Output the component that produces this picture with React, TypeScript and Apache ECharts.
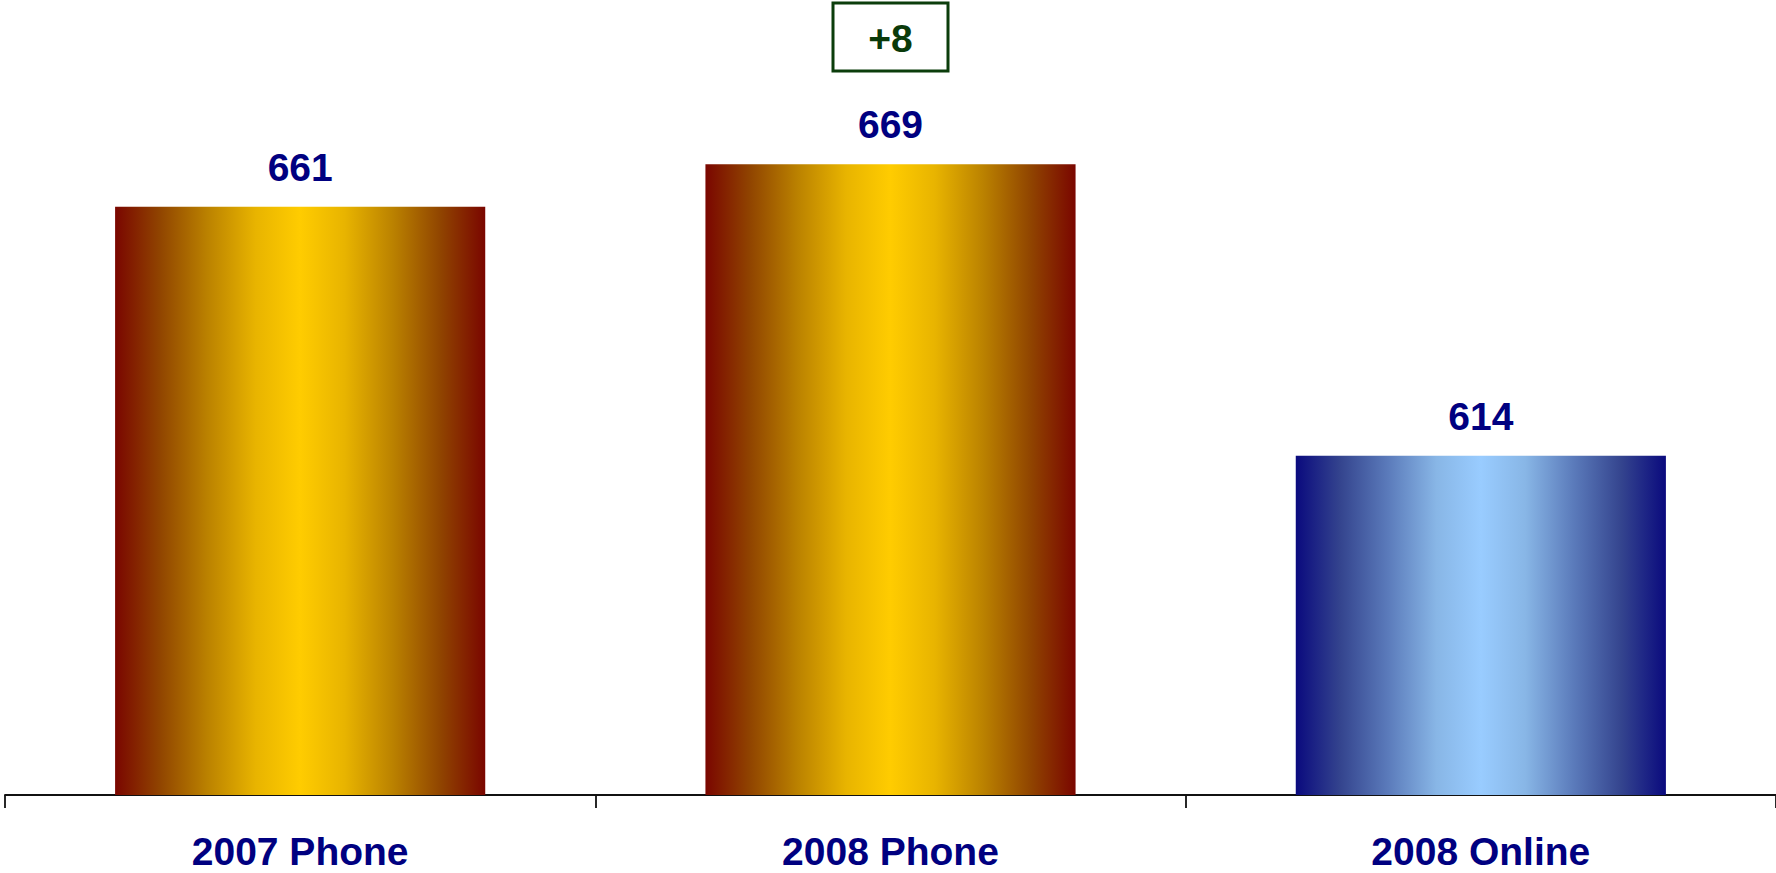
import React, { useEffect, useRef } from "react";
import * as echarts from "echarts";

const categories = ["2007 Phone", "2008 Phone", "2008 Online"];
const values = [661, 669, 614];
const gradientKinds = ["gold", "gold", "blue"];
const deltaFrom = 0;
const deltaTo = 1;

const goldStops = ["#7a0600", "#904400", "#bb8200", "#e8b400", "#ffcc00", "#e8b400", "#bb8200", "#904400", "#7a0600"];
const blueStops = ["#0a0a7e", "#34448e", "#5b7bbb", "#88b6e6", "#99ccff", "#88b6e6", "#5b7bbb", "#34448e", "#0a0a7e"];
const stopOffsets = [0, 0.12, 0.25, 0.38, 0.5, 0.62, 0.75, 0.88, 1];

const FONT = '"Liberation Sans", Arial, Helvetica, sans-serif';
const NAVY = "#000080";

function makeGradient(kind: string) {
  const cols = kind === "gold" ? goldStops : blueStops;
  return new echarts.graphic.LinearGradient(
    0, 0, 1, 0,
    cols.map((c, i) => ({ offset: stopOffsets[i], color: c }))
  );
}

export default function App() {
  const ref = useRef<HTMLDivElement>(null);
  useEffect(() => {
    document.body.style.margin = "0";
    document.body.style.overflow = "hidden";
    if (!ref.current) return;
    const chart = echarts.init(ref.current, null, { renderer: "svg" });
    const delta = values[deltaTo] - values[deltaFrom];
    const deltaText = (delta >= 0 ? "+" : "") + delta;
    chart.setOption({
      animation: false,
      backgroundColor: "#ffffff",
      grid: { left: 5, right: 0, top: -5, bottom: 78, containLabel: false },
      xAxis: {
        type: "category",
        data: categories,
        axisLine: { show: true, lineStyle: { color: "#111111", width: 1.8 } },
        axisTick: { show: true, length: 13, lineStyle: { color: "#111111", width: 1.8 } },
        axisLabel: {
          margin: 41,
          fontSize: 39,
          lineHeight: 30,
          fontWeight: "bold",
          fontFamily: FONT,
          color: NAVY,
        },
      },
      yAxis: {
        type: "value",
        min: 550,
        max: 700,
        show: false,
        splitLine: { show: false },
      },
      series: [
        {
          type: "bar",
          barWidth: "62.7%",
          data: values.map((v, i) => ({
            value: v,
            itemStyle: { color: makeGradient(gradientKinds[i]) },
          })),
          label: {
            show: true,
            position: "top",
            distance: 20,
            fontSize: 39,
            fontWeight: "bold",
            fontFamily: FONT,
            color: NAVY,
          },
        },
      ],
    });
    const cx = chart.convertToPixel({ xAxisIndex: 0 }, categories[deltaTo]) as number;
    const boxW = 115;
    const boxH = 68;
    chart.setOption({
      graphic: [
        {
          type: "group",
          x: cx - boxW / 2,
          y: 3,
          children: [
            {
              type: "rect",
              shape: { x: 0, y: 0, width: boxW, height: boxH },
              style: { fill: "#ffffff", stroke: "#0b3d0b", lineWidth: 3 },
            },
            {
              type: "text",
              x: boxW / 2,
              y: boxH / 2 + 1,
              style: {
                text: deltaText,
                fill: "#0a3a0a",
                font: `bold 39px ${FONT}`,
                align: "center",
                verticalAlign: "middle",
              },
            },
          ],
        },
      ],
    });
    return () => chart.dispose();
  }, []);
  return <div ref={ref} style={{ width: 1776, height: 873 }} />;
}
